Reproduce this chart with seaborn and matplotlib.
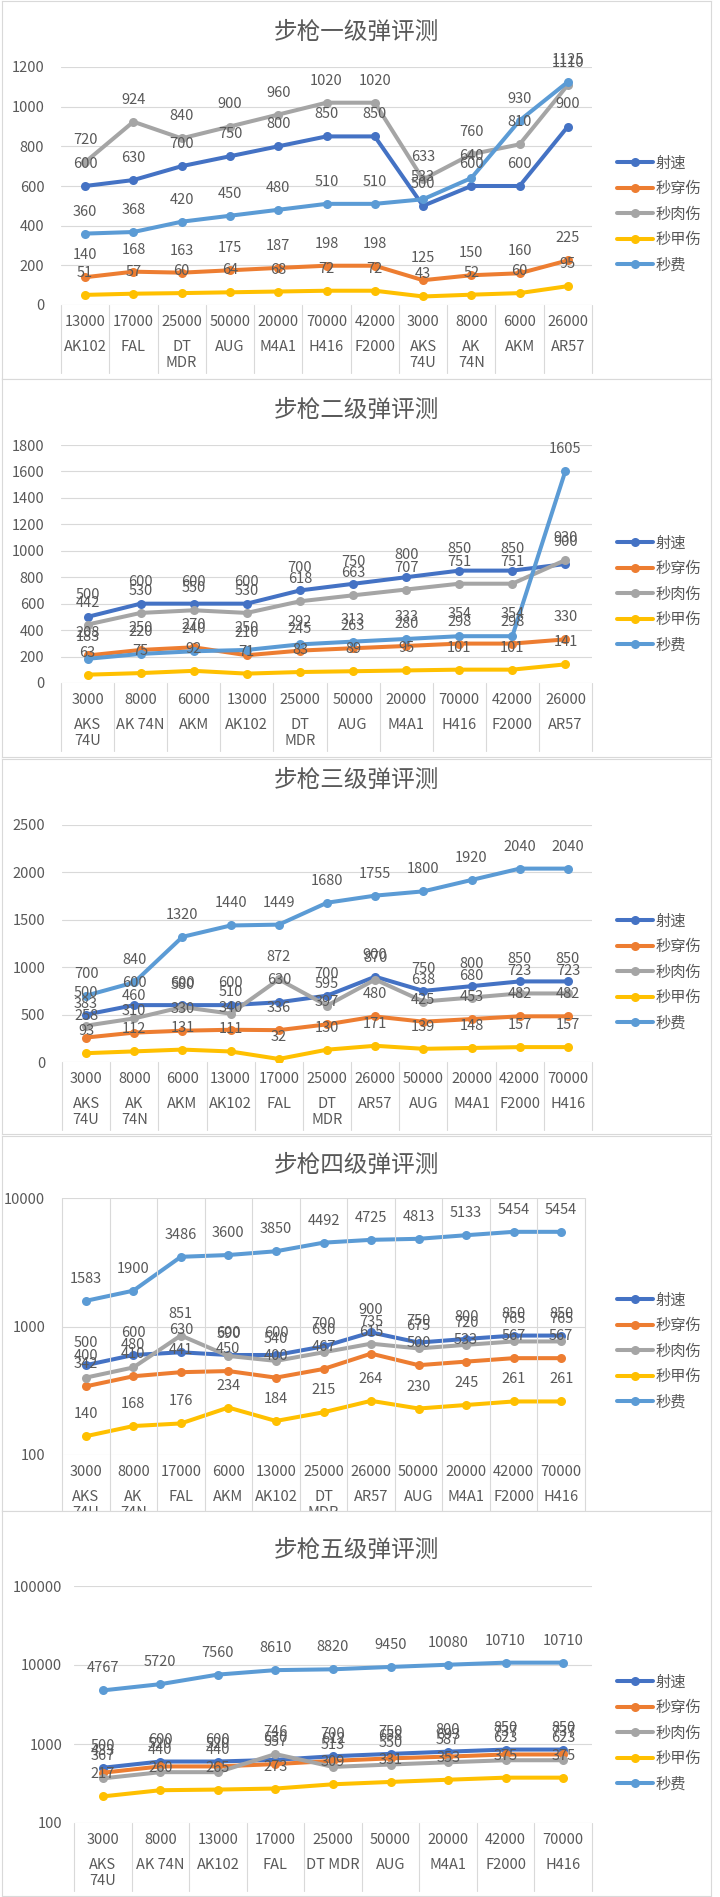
import numpy as np
import pandas as pd
import seaborn as sns
import matplotlib.pyplot as plt
from matplotlib.lines import Line2D
from matplotlib.ticker import NullLocator

W, H = 720, 1897

series = ['射速', '秒穿伤', '秒肉伤', '秒甲伤', '秒费']
colors = ['#4472C4', '#ED7D31', '#A5A5A5', '#FFC000', '#5B9BD5']

# 步枪一级弹
p1_price = [13000, 17000, 25000, 50000, 20000, 70000, 42000, 3000, 8000, 6000, 26000]
p1_gun = ['AK102', 'FAL', 'DT\nMDR', 'AUG', 'M4A1', 'H416', 'F2000', 'AKS\n74U', 'AK\n74N', 'AKM', 'AR57']
p1_rate = [600, 630, 700, 750, 800, 850, 850, 500, 600, 600, 900]
p1_pen = [140, 168, 163, 175, 187, 198, 198, 125, 150, 160, 225]
p1_flesh = [720, 924, 840, 900, 960, 1020, 1020, 633, 760, 810, 1110]
p1_armor = [51, 57, 60, 64, 68, 72, 72, 43, 52, 60, 95]
p1_cost = [360, 368, 420, 450, 480, 510, 510, 533, 640, 930, 1125]

# 步枪二级弹
p2_price = [3000, 8000, 6000, 13000, 25000, 50000, 20000, 70000, 42000, 26000]
p2_gun = ['AKS\n74U', 'AK 74N', 'AKM', 'AK102', 'DT\nMDR', 'AUG', 'M4A1', 'H416', 'F2000', 'AR57']
p2_rate = [500, 600, 600, 600, 700, 750, 800, 850, 850, 900]
p2_pen = [208, 250, 270, 210, 245, 263, 280, 298, 298, 330]
p2_flesh = [442, 530, 550, 530, 618, 663, 707, 751, 751, 930]
p2_armor = [63, 75, 92, 71, 83, 89, 95, 101, 101, 141]
p2_cost = [183, 220, 240, 250, 292, 313, 333, 354, 354, 1605]

# 步枪三级弹
p3_price = [3000, 8000, 6000, 13000, 17000, 25000, 26000, 50000, 20000, 42000, 70000]
p3_gun = ['AKS\n74U', 'AK\n74N', 'AKM', 'AK102', 'FAL', 'DT\nMDR', 'AR57', 'AUG', 'M4A1', 'F2000', 'H416']
p3_rate = [500, 600, 600, 600, 630, 700, 900, 750, 800, 850, 850]
p3_pen = [258, 310, 330, 340, 336, 397, 480, 425, 453, 482, 482]
p3_flesh = [383, 460, 580, 510, 872, 595, 870, 638, 680, 723, 723]
p3_armor = [93, 112, 131, 111, 32, 130, 171, 139, 148, 157, 157]
p3_cost = [700, 840, 1320, 1440, 1449, 1680, 1755, 1800, 1920, 2040, 2040]

# 步枪四级弹
p4_price = [3000, 8000, 17000, 6000, 13000, 25000, 26000, 50000, 20000, 42000, 70000]
p4_gun = ['AKS\n74U', 'AK\n74N', 'FAL', 'AKM', 'AK102', 'DT\nMDR', 'AR57', 'AUG', 'M4A1', 'F2000', 'H416']
p4_rate = [500, 600, 630, 600, 600, 700, 900, 750, 800, 850, 850]
p4_pen = [342, 410, 441, 450, 400, 467, 615, 500, 533, 567, 567]
p4_flesh = [400, 480, 851, 590, 540, 630, 735, 675, 720, 765, 765]
p4_armor = [140, 168, 176, 234, 184, 215, 264, 230, 245, 261, 261]
p4_cost = [1583, 1900, 3486, 3600, 3850, 4492, 4725, 4813, 5133, 5454, 5454]

# 步枪五级弹
p5_price = [3000, 8000, 13000, 17000, 25000, 50000, 20000, 42000, 70000]
p5_gun = ['AKS\n74U', 'AK 74N', 'AK102', 'FAL', 'DT MDR', 'AUG', 'M4A1', 'F2000', 'H416']
p5_rate = [500, 600, 600, 630, 700, 750, 800, 850, 850]
p5_pen = [433, 520, 520, 557, 612, 658, 693, 737, 737]
p5_flesh = [367, 440, 440, 746, 513, 550, 587, 623, 623]
p5_armor = [217, 260, 265, 273, 309, 331, 353, 375, 375]
p5_cost = [4767, 5720, 7560, 8610, 8820, 9450, 10080, 10710, 10710]

sns.set_theme(style='white')
plt.rcParams['font.family'] = ['Noto Sans CJK SC', 'DejaVu Sans']

txt = '#595959'
grid_c = '#D9D9D9'
palette = dict(zip(series, colors))

fig = plt.figure(figsize=(W / 100, H / 100), dpi=100)


def fy(y):
    return 1 - y / H


def draw_panel(z, box, title, title_y, L, R, T, B, prices, guns, values,
               ylim, yticks, log, legend_y, tick_pad, vgrid=False):
    # background box of the chart
    bg = fig.add_axes([box[0] / W, fy(box[3]), (box[2] - box[0]) / W, (box[3] - box[1]) / H], zorder=z)
    bg.set_xticks([])
    bg.set_yticks([])
    bg.set_facecolor('white')
    for sp in bg.spines.values():
        sp.set_color(grid_c)
        sp.set_linewidth(0.8)
    bg.text(0.5, (box[3] - title_y) / (box[3] - box[1]), title, transform=bg.transAxes,
            ha='center', va='center', fontsize=17, color=txt, fontweight='light')

    ax = fig.add_axes([L / W, fy(B), (R - L) / W, (B - T) / H], zorder=z + 1)
    ax.set_facecolor('none')

    rows = []
    for s, vals in zip(series, values):
        for i, v in enumerate(vals):
            rows.append((i, v, s))
    df = pd.DataFrame(rows, columns=['x', 'v', 's'])
    n = len(prices)

    if log:
        ax.set_yscale('log')
    sns.lineplot(data=df, x='x', y='v', hue='s', hue_order=series, palette=palette,
                 marker='o', markersize=6.5, markeredgewidth=0, linewidth=2.9,
                 estimator=None, legend=False, ax=ax)

    for s, vals in zip(series, values):
        for i, v in enumerate(vals):
            ax.annotate(str(v), (i, v), xytext=(0, 22), textcoords='offset pixels',
                        ha='center', va='center', fontsize=10.5, color=txt, zorder=5)

    ax.set_xlim(-0.5, n - 0.5)
    ax.set_ylim(*ylim)
    ax.set_yticks(yticks)
    ax.set_yticklabels([str(t) for t in yticks])
    ax.yaxis.set_minor_locator(NullLocator())
    ax.set_xticks([])
    ax.set_xlabel('')
    ax.set_ylabel('')
    ax.tick_params(axis='y', length=0, pad=tick_pad, labelsize=10.5, labelcolor=txt)
    ax.grid(axis='y', color=grid_c, linewidth=0.8)
    ax.grid(axis='x', visible=False)
    for sp in ax.spines.values():
        sp.set_visible(False)

    # category table under the axis
    hpx = B - T

    def fr(ypx):
        return (B - ypx) / hpx

    top = 1 if vgrid else 0
    for k in range(n + 1):
        ax.plot([k - 0.5, k - 0.5], [top, fr(B + 68)], transform=ax.get_xaxis_transform(),
                color=grid_c, lw=0.8, clip_on=False)
    for i, (p, g) in enumerate(zip(prices, guns)):
        ax.text(i, fr(B + 17), str(p), transform=ax.get_xaxis_transform(),
                ha='center', va='center', fontsize=10.5, color=txt)
        for j, line in enumerate(g.split('\n')):
            ax.text(i, fr(B + 42 + 16 * j), line, transform=ax.get_xaxis_transform(),
                    ha='center', va='center', fontsize=10.5, color=txt)

    handles = [Line2D([], [], color=c, lw=2.9, marker='o', markersize=6.5, markeredgewidth=0) for c in colors]
    ax.legend(handles, series, loc='center left', bbox_to_anchor=(617 / W, fy(legend_y)),
              bbox_transform=fig.transFigure, frameon=False, fontsize=11, labelcolor=txt,
              handlelength=2.35, handletextpad=0.2, labelspacing=0.55, borderpad=0, borderaxespad=0)


draw_panel(0, (2, 1, 711, 379), '步枪一级弹评测', 32, 61, 592, 67, 305, p1_price, p1_gun,
           [p1_rate, p1_pen, p1_flesh, p1_armor, p1_cost],
           (0, 1200), list(range(0, 1201, 200)), False, 214, 12)

draw_panel(2, (2, 379, 711, 757), '步枪二级弹评测', 410, 61, 592, 445, 683, p2_price, p2_gun,
           [p2_rate, p2_pen, p2_flesh, p2_armor, p2_cost],
           (0, 1800), list(range(0, 1801, 200)), False, 594, 12)

draw_panel(4, (2, 759, 711, 1134), '步枪三级弹评测', 780, 62, 592, 825, 1062, p3_price, p3_gun,
           [p3_rate, p3_pen, p3_flesh, p3_armor, p3_cost],
           (0, 2500), list(range(0, 2501, 500)), False, 972, 12)

draw_panel(6, (2, 1136, 711, 1511), '步枪四级弹评测', 1165, 62, 585, 1198, 1455, p4_price, p4_gun,
           [p4_rate, p4_pen, p4_flesh, p4_armor, p4_cost],
           (100, 10000), [100, 1000, 10000], True, 1351, 12, vgrid=True)

draw_panel(8, (2, 1511, 711, 1896), '步枪五级弹评测', 1550, 74, 592, 1586, 1823, p5_price, p5_gun,
           [p5_rate, p5_pen, p5_flesh, p5_armor, p5_cost],
           (100, 100000), [100, 1000, 10000, 100000], True, 1733, 8.5)

fig.savefig('out.png', dpi=100, facecolor='white')
